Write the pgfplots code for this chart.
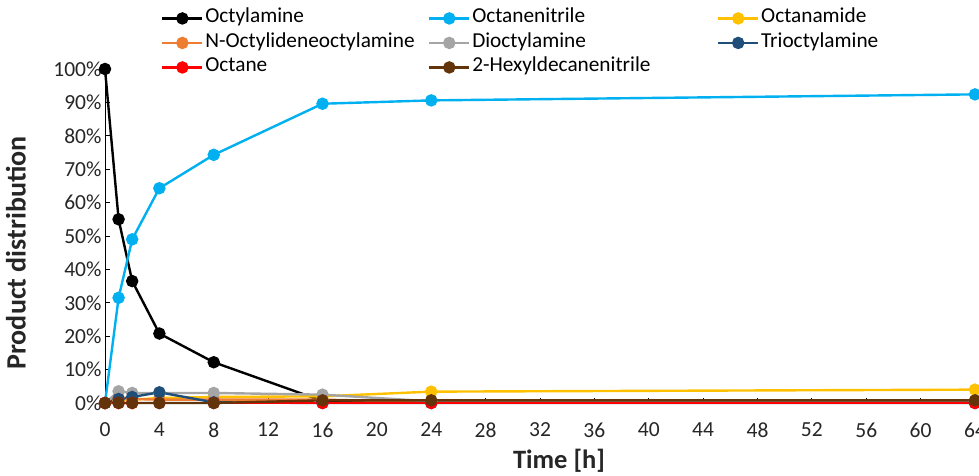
\documentclass[border=0pt]{standalone}
\usepackage{pgfplots}
\pgfplotsset{compat=1.18}
\usepackage{fontspec}
\setmainfont{Carlito}
\definecolor{cOcta}{RGB}{0,0,0}
\definecolor{cNit}{RGB}{0,176,240}
\definecolor{cAmid}{RGB}{255,192,0}
\definecolor{cImin}{RGB}{237,125,49}
\definecolor{cDi}{RGB}{165,165,165}
\definecolor{cTri}{RGB}{31,78,121}
\definecolor{cOct}{RGB}{255,0,0}
\definecolor{cHex}{RGB}{99,51,10}
\begin{document}
\begin{tikzpicture}
\begin{axis}[
  scale only axis,
  width=870pt, height=334pt,
  xmin=0, xmax=64, ymin=0, ymax=100,
  clip=false,
  axis lines*=left,
  axis line style={draw=black, line width=0.8pt},
  xtick={0,4,...,64},
  ytick={0,10,...,100},
  yticklabel={\pgfmathprintnumber{\tick}\%},
  tick style={draw=black, line width=0.8pt},
  major tick length=5pt,
  tick align=inside,
  /pgf/number format/assume math mode=true,
  ticklabel style={font=\fontsize{21.5}{25}\selectfont, text=black!85},
  xticklabel style={yshift=-16pt},
  xlabel={\textbf{Time [h]}},
  ylabel={\textbf{Product distribution}},
  label style={text=black!85},
  xlabel style={font=\fontsize{26.5}{31}\selectfont, at={([xshift=19pt,yshift=-65pt]axis description cs:0.5,0)}, anchor=base},
  ylabel style={font=\fontsize{28}{32}\selectfont, at={([xshift=-89pt,yshift=-17pt]axis description cs:0,0.5)}, anchor=center},
  every axis plot/.append style={line width=2.4pt, mark=*, mark size=5pt},
  legend columns=3,
  legend cell align=left,
  legend style={
    at={(rel axis cs:0,1)}, anchor=north west, xshift=56pt, yshift=63pt,
    draw=none, fill=none, inner sep=0pt, row sep=0pt,
    font=\fontsize{21.3}{25}\selectfont,
    nodes={inner sep=1.75pt, text height=15pt, text depth=6pt},
  },
  legend image code/.code={\draw[mark repeat=2,mark phase=2] plot coordinates {(0pt,0pt) (20pt,0pt) (40pt,0pt)};},
]
\addplot[color=cOcta] coordinates {(0,100)(1,55)(2,36.5)(4,20.8)(8,12.2)(16,0.6)(24,0.2)(64,0.2)};
\addlegendentry{Octylamine}
\addplot[color=cNit] coordinates {(0,0)(1,31.5)(2,49)(4,64.3)(8,74.3)(16,89.6)(24,90.6)(64,92.4)};
\addlegendentry{Octanenitrile}
\addplot[color=cAmid] coordinates {(0,0)(1,0.8)(2,1)(4,1.5)(8,1.8)(16,2)(24,3.4)(64,4)};
\addlegendentry{Octanamide}
\addplot[color=cImin] coordinates {(0,0)(1,1.5)(2,1.2)(4,1)(8,1)(16,1)(24,0.3)(64,0.3)};
\addlegendentry{\makebox[221pt][l]{N-Octylideneoctylamine}}
\addplot[color=cDi] coordinates {(0,0)(1,3.5)(2,3)(4,3)(8,3)(16,2.5)(24,0.5)(64,0.5)};
\addlegendentry{Dioctylamine}
\addplot[color=cTri] coordinates {(0,0)(1,1.2)(2,1.8)(4,3.2)(8,0.2)(16,0)(24,0)(64,0)};
\addlegendentry{Trioctylamine}
\addplot[color=cOct] coordinates {(0,0)(1,0)(2,0)(4,0)(8,0)(16,0)(24,0)(64,0)};
\addlegendentry{Octane}
\addplot[color=cHex] coordinates {(0,0)(1,0)(2,0)(4,0)(8,0)(16,0.8)(24,0.8)(64,0.8)};
\addlegendentry{\makebox[243pt][l]{2-Hexyldecanenitrile}}
\end{axis}
\pgfresetboundingbox
\path[use as bounding box] ([xshift=-105pt,yshift=-73pt]current axis.south west) rectangle ([xshift=4pt,yshift=69pt]current axis.north east);
\end{tikzpicture}
\end{document}
